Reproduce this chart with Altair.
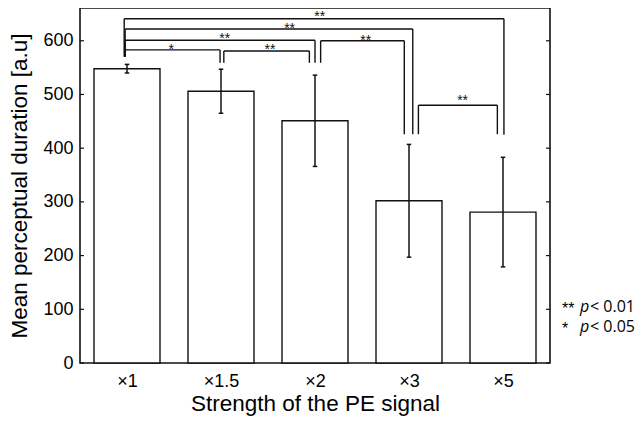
import json
import altair as alt
import pandas as pd

# ---- data ----
categories = ["×1", "×1.5", "×2", "×3", "×5"]
means = [548, 506, 451, 302, 281]
errors = [8, 41, 85, 105, 102]
y_ticks = [0, 100, 200, 300, 400, 500, 600]

# significance brackets (x in category-index units, y in a.u.)
br_x1 = [-0.03, -0.02, -0.02, -0.02, 1.03, 2.06, 3.10]
br_x2 = [4.01, 3.04, 2.00, 0.99, 1.94, 2.95, 3.94]
br_y = [641, 622, 601, 583, 581, 600, 480]
br_low1 = [570, 570, 570, 570, 559, 559, 426]
br_low2 = [425, 426, 559, 559, 559, 426, 426]
br_text = ["**", "**", "**", "*", "**", "**", "**"]
br_text_x = [2.05, 1.73, 1.04, 0.47, 1.52, 2.54, 3.57]
br_text_y = [652, 629, 611, 591, 591, 607, 495]

legend_stars = ["**", "*"]
legend_rest = ["< 0.01", "< 0.05"]

# ---- tables ----
bars = pd.DataFrame({"cat": categories, "pos": list(range(len(categories))),
                     "mean": means, "err": errors})

segs = []
for a, b, y, l1, l2 in zip(br_x1, br_x2, br_y, br_low1, br_low2):
    segs.append({"x": a, "x2": a, "y": l1, "y2": y})
    segs.append({"x": a, "x2": b, "y": y, "y2": y})
    segs.append({"x": b, "x2": b, "y": y, "y2": l2})
segs = pd.DataFrame(segs)
stars = pd.DataFrame({"t": br_text, "x": br_text_x, "y": br_text_y})
ticks = pd.DataFrame({"v": y_ticks})

FONT = "Liberation Sans"
INK = "#111111"

xs = alt.Scale(domain=[-0.5, 4.5], nice=False, zero=False)
ys = alt.Scale(domain=[0, 661], nice=False)

label_expr = json.dumps(categories, ensure_ascii=False) + "[datum.value]"
xaxis = alt.Axis(values=list(range(len(categories))), labelExpr=label_expr,
                 title="Strength of the PE signal", ticks=False, domain=False,
                 grid=False, labelFlush=False, labelPadding=9, titlePadding=2,
                 labelFont=FONT, titleFont=FONT, labelFontSize=18,
                 titleFontSize=22.5, titleFontWeight="normal",
                 labelColor="black", titleColor="black")
yaxis = alt.Axis(values=y_ticks, title="Mean perceptual duration [a.u]",
                 ticks=False, domain=False, grid=False, labelFlush=False,
                 labelPadding=7, titlePadding=11, labelFont=FONT,
                 titleFont=FONT, labelFontSize=18, titleFontSize=22.5,
                 titleFontWeight="normal", labelColor="black",
                 titleColor="black")

base = alt.Chart(bars)

bar = base.transform_calculate(
    left="datum.pos - 0.351", right="datum.pos + 0.351"
).mark_bar(fill="white", stroke=INK, strokeWidth=1.4).encode(
    x=alt.X("left:Q", scale=xs, axis=xaxis),
    x2="right:Q",
    y=alt.Y("mean:Q", scale=ys, axis=yaxis),
    y2=alt.datum(0),
)

err = base.transform_calculate(
    lo="datum.mean - datum.err", hi="datum.mean + datum.err"
)
err_line = err.mark_rule(color=INK, strokeWidth=1.5).encode(
    x=alt.X("pos:Q", scale=xs), y=alt.Y("lo:Q", scale=ys), y2="hi:Q")
cap_lo = err.transform_calculate(
    a="datum.pos - 0.024", b="datum.pos + 0.024"
).mark_rule(color=INK, strokeWidth=1.5).encode(
    x=alt.X("a:Q", scale=xs), x2="b:Q", y=alt.Y("lo:Q", scale=ys))
cap_hi = err.transform_calculate(
    a="datum.pos - 0.024", b="datum.pos + 0.024"
).mark_rule(color=INK, strokeWidth=1.5).encode(
    x=alt.X("a:Q", scale=xs), x2="b:Q", y=alt.Y("hi:Q", scale=ys))

brackets = alt.Chart(segs).mark_rule(color=INK, strokeWidth=1.4).encode(
    x=alt.X("x:Q", scale=xs), x2="x2:Q",
    y=alt.Y("y:Q", scale=ys), y2="y2:Q")

star_text = alt.Chart(stars).mark_text(
    font=FONT, fontSize=14, color=INK, baseline="alphabetic", dy=8
).encode(x=alt.X("x:Q", scale=xs), y=alt.Y("y:Q", scale=ys), text="t:N")

tick_l = alt.Chart(ticks).mark_rule(color=INK, strokeWidth=1.2).encode(
    y=alt.Y("v:Q", scale=ys), x=alt.value(0), x2=alt.value(4))
tick_r = alt.Chart(ticks).mark_rule(color=INK, strokeWidth=1.2).encode(
    y=alt.Y("v:Q", scale=ys), x=alt.value(466), x2=alt.value(470))

legend_layers = []
for i, (s, r) in enumerate(zip(legend_stars, legend_rest)):
    yy = 303.5 + 20.5 * i
    d = pd.DataFrame({"s": [s], "p": ["p"], "r": [r]})
    c = alt.Chart(d)
    legend_layers.append(c.mark_text(font=FONT, fontSize=16, align="left",
                                     baseline="alphabetic", color="black").encode(
        x=alt.value(482), y=alt.value(yy + 2), text="s:N"))
    legend_layers.append(c.mark_text(font="Open Sans", fontSize=16, align="left",
                                     fontStyle="italic", baseline="alphabetic",
                                     color="black").encode(
        x=alt.value(500), y=alt.value(yy), text="p:N"))
    legend_layers.append(c.mark_text(font="Open Sans", fontSize=16, align="left",
                                     baseline="alphabetic", color="black").encode(
        x=alt.value(510), y=alt.value(yy), text="r:N"))

chart = alt.layer(
    bar, err_line, cap_lo, cap_hi, brackets, star_text, tick_l, tick_r,
    *legend_layers
).properties(
    width=470, height=355,
    autosize=alt.AutoSizeParams(type="none"),
    padding={"left": 72, "top": 0, "right": 85, "bottom": 56},
    background="white",
).configure_view(stroke=INK, strokeWidth=1.6)

chart.save("out.html", embed_options={"renderer": "svg", "actions": False})
